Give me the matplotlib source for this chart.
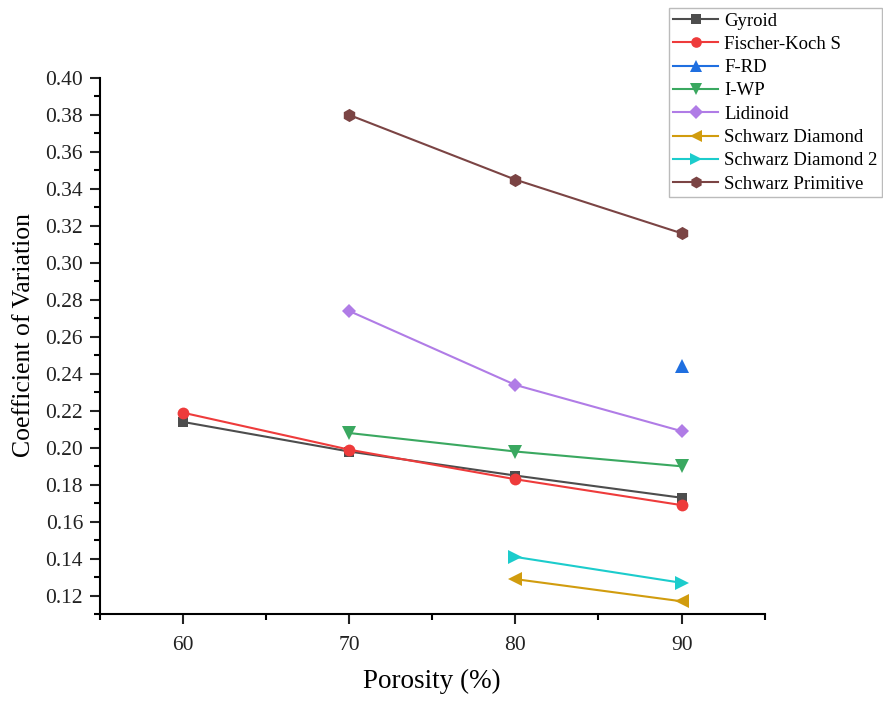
import numpy as np
import matplotlib.pyplot as plt
from matplotlib.ticker import MultipleLocator

plt.rcParams['font.family'] = ['Liberation Serif', 'DejaVu Serif']

porosity = [60, 70, 80, 90]

gyroid = [0.214, 0.198, 0.185, 0.173]
fischer_koch = [0.219, 0.199, 0.183, 0.169]
frd = [np.nan, np.nan, np.nan, 0.244]
iwp = [np.nan, 0.208, 0.198, 0.190]
lidinoid = [np.nan, 0.274, 0.234, 0.209]
diamond = [np.nan, np.nan, 0.129, 0.117]
diamond2 = [np.nan, np.nan, 0.141, 0.127]
primitive = [np.nan, 0.380, 0.345, 0.316]

names = ["Gyroid", "Fischer-Koch S", "F-RD", "I-WP", "Lidinoid",
         "Schwarz Diamond", "Schwarz Diamond 2", "Schwarz Primitive"]
series = [gyroid, fischer_koch, frd, iwp, lidinoid, diamond, diamond2, primitive]
colors = ["#4d4d4d", "#ee3b3b", "#1f6fe0", "#3aa860", "#b07ce6",
          "#d19c0e", "#1ccccc", "#7b4444"]
markers = ["s", "o", "^", "v", "D", "<", ">", "h"]
sizes = [7.5, 8.5, 9.5, 9.5, 7.5, 9.5, 9.5, 9.5]

fig = plt.figure(figsize=(8.83, 7.02), dpi=100)
ax = fig.add_axes([0.113, 0.125, 0.753, 0.764])

for vals, name, c, m, s in zip(series, names, colors, markers, sizes):
    ax.plot(porosity, vals, color=c, marker=m, markersize=s, lw=1.5,
            label=name, markeredgewidth=0)

ax.set_xlim(55, 95)
ax.set_ylim(0.11, 0.40)
ax.set_xticks([60, 70, 80, 90])
ax.xaxis.set_minor_locator(MultipleLocator(5))
ax.set_yticks(np.arange(0.12, 0.401, 0.02))
ax.yaxis.set_minor_locator(MultipleLocator(0.01))
ax.yaxis.set_major_formatter(plt.FormatStrFormatter('%.2f'))

for side in ['top', 'right']:
    ax.spines[side].set_visible(False)
for side in ['left', 'bottom']:
    ax.spines[side].set_linewidth(1.5)
ax.tick_params(which='major', direction='out', length=7, width=1.5,
               labelsize=15.5, colors='#222222')
ax.tick_params(which='minor', direction='out', length=4, width=1.5)
ax.tick_params(axis='x', pad=9)
ax.tick_params(axis='y', pad=5)

ax.set_xlabel("Porosity (%)", fontsize=19.5)
ax.xaxis.set_label_coords(0.5, -0.102)
ax.set_ylabel("Coefficient of Variation", fontsize=18.5)
ax.yaxis.set_label_coords(-0.098, 0.52)

leg = fig.legend(loc='upper right', bbox_to_anchor=(0.999, 0.989),
                 fontsize=13.5, handlelength=2.4, handletextpad=0.3,
                 borderpad=0.25, labelspacing=0.33, fancybox=False,
                 borderaxespad=0, markerscale=0.9)
leg.get_frame().set_edgecolor('#aaaaaa')
leg.get_frame().set_linewidth(1.0)

fig.savefig("out.png", dpi=100)
